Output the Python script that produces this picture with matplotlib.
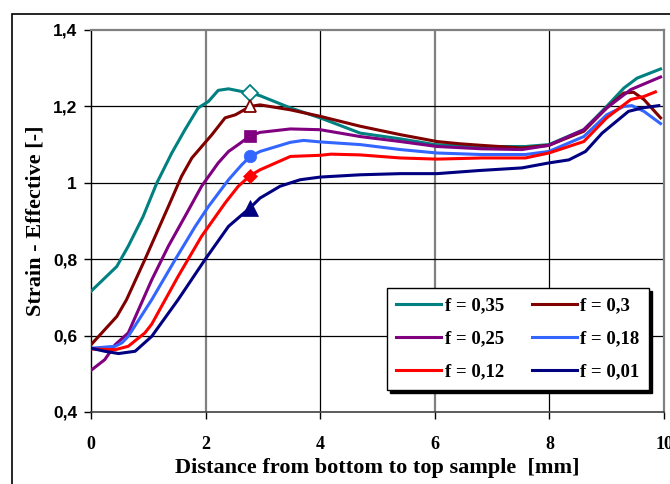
import matplotlib
matplotlib.use("Agg")
import matplotlib.pyplot as plt
from matplotlib.patches import Rectangle

# ---- data ----
x_035 = [0, 0.45, 0.65, 0.91, 1.15, 1.41, 1.64, 1.87, 2.05, 2.22, 2.40, 2.63, 2.79, 2.95, 3.48, 4.0, 4.7, 5.4, 6.0, 6.82, 7.58, 7.99, 8.6, 9.0, 9.3, 9.53, 9.94]
y_035 = [0.716, 0.781, 0.834, 0.912, 1.0, 1.078, 1.139, 1.196, 1.213, 1.242, 1.246, 1.239, 1.235, 1.228, 1.196, 1.170, 1.130, 1.115, 1.100, 1.095, 1.095, 1.100, 1.139, 1.200, 1.248, 1.274, 1.298]

x_030 = [0, 0.45, 0.62, 0.94, 1.35, 1.58, 1.76, 2.11, 2.34, 2.52, 2.78, 2.95, 3.48, 4.0, 4.7, 5.4, 6.04, 6.45, 6.82, 7.52, 7.99, 8.6, 9.0, 9.3, 9.47, 9.65, 9.94]
y_030 = [0.576, 0.650, 0.694, 0.799, 0.938, 1.017, 1.065, 1.126, 1.170, 1.178, 1.200, 1.204, 1.191, 1.174, 1.148, 1.126, 1.108, 1.102, 1.098, 1.091, 1.098, 1.135, 1.196, 1.235, 1.237, 1.218, 1.170]

x_025 = [0, 0.24, 0.42, 0.65, 1.06, 1.35, 1.64, 1.93, 2.22, 2.40, 2.57, 2.78, 2.95, 3.48, 4.0, 4.7, 5.4, 6.04, 6.82, 7.52, 7.99, 8.6, 9.0, 9.42, 9.94]
y_025 = [0.509, 0.537, 0.576, 0.607, 0.746, 0.834, 0.912, 0.991, 1.052, 1.082, 1.100, 1.123, 1.132, 1.141, 1.139, 1.121, 1.108, 1.095, 1.089, 1.087, 1.098, 1.139, 1.196, 1.244, 1.277]

x_018 = [0, 0.42, 0.54, 0.65, 1.06, 1.47, 1.82, 2.05, 2.40, 2.63, 2.78, 2.95, 3.48, 3.71, 4.0, 4.7, 5.4, 6.04, 6.82, 7.58, 7.99, 8.6, 9.0, 9.3, 9.44, 9.65, 9.94]
y_018 = [0.567, 0.572, 0.581, 0.598, 0.694, 0.799, 0.886, 0.938, 1.008, 1.047, 1.069, 1.082, 1.106, 1.111, 1.107, 1.100, 1.087, 1.078, 1.074, 1.074, 1.082, 1.121, 1.178, 1.200, 1.202, 1.187, 1.155]

x_012 = [0, 0.42, 0.65, 0.94, 1.06, 1.52, 1.93, 2.34, 2.57, 2.78, 2.95, 3.48, 4.0, 4.19, 4.7, 5.4, 6.04, 6.82, 7.58, 7.99, 8.6, 9.0, 9.42, 9.65, 9.85]
y_012 = [0.565, 0.563, 0.572, 0.607, 0.630, 0.755, 0.860, 0.947, 0.991, 1.019, 1.034, 1.069, 1.072, 1.075, 1.073, 1.065, 1.062, 1.065, 1.065, 1.078, 1.108, 1.170, 1.218, 1.226, 1.238]

x_001 = [0, 0.24, 0.48, 0.77, 1.06, 1.52, 1.99, 2.40, 2.78, 2.95, 3.30, 3.65, 4.0, 4.7, 5.4, 6.04, 6.76, 7.52, 7.99, 8.34, 8.63, 8.92, 9.38, 9.62, 9.91]
y_001 = [0.567, 0.559, 0.553, 0.559, 0.598, 0.694, 0.799, 0.886, 0.935, 0.960, 0.991, 1.008, 1.015, 1.021, 1.024, 1.024, 1.032, 1.039, 1.052, 1.060, 1.082, 1.130, 1.187, 1.196, 1.202]

marker_x = 2.78
marker_y = [1.235, 1.200, 1.123, 1.069, 1.019, 0.935]

labels = ["f = 0,35", "f = 0,3", "f = 0,25", "f = 0,18", "f = 0,12", "f = 0,01"]
colors = ["#008080", "#800000", "#800080", "#3366FF", "#FF0000", "#000080"]
markers = ["D", "^", "s", "o", "D", "^"]
filled = [False, False, True, True, True, True]
msizes = [8, 9, 9, 9, 7, 11]

xticks = [0, 2, 4, 6, 8, 10]
yticks = [0.4, 0.6, 0.8, 1.0, 1.2, 1.4]
ytick_labels = ["0,4", "0,6", "0,8", "1", "1,2", "1,4"]

xs = [x_035, x_030, x_025, x_018, x_012, x_001]
ys = [y_035, y_030, y_025, y_018, y_012, y_001]

fig = plt.figure(figsize=(6.7, 4.84), dpi=100)
fig.patch.set_facecolor("white")

# outer chart frame (extends beyond the cropped image)
fig.add_artist(Rectangle((12 / 670, -0.1), 1.2, 1 - 14 / 484 + 0.1,
                         transform=fig.transFigure, fill=False,
                         edgecolor="black", linewidth=1.2))

ax = fig.add_axes([91 / 670, 1 - 412 / 484, (664 - 91) / 670, (412 - 30) / 484])
ax.set_xlim(0, 10)
ax.set_ylim(0.4, 1.4)

# grid
for gx in [2, 4, 6, 8]:
    if gx in (2, 6):
        ax.axvline(gx, color="#808080", lw=1.6, zorder=0)
    else:
        ax.axvline(gx, color="black", lw=0.9, zorder=0)
for gy in [0.6, 0.8, 1.0, 1.2]:
    ax.axhline(gy, color="black", lw=0.9, zorder=0)

handles = []
for i in range(6):
    h, = ax.plot(xs[i], ys[i], color=colors[i], lw=2.2, label=labels[i], zorder=3,
                 solid_joinstyle="round")
    handles.append(h)
    ax.plot([marker_x], [marker_y[i]], marker=markers[i], ms=msizes[i],
            color=colors[i],
            markerfacecolor=colors[i] if filled[i] else "white",
            markeredgecolor=colors[i], markeredgewidth=1.3 if not filled[i] else 0.5,
            linestyle="none", zorder=4)

for s in ["top", "right"]:
    ax.spines[s].set_color("#808080")
    ax.spines[s].set_linewidth(1.6)
ax.spines["left"].set_color("black")
ax.spines["left"].set_linewidth(1.0)
ax.spines["bottom"].set_color("#404040")
ax.spines["bottom"].set_linewidth(1.2)

ax.set_xticks(xticks)
ax.set_xticklabels([str(t) for t in xticks],
                   fontdict={"family": "Liberation Serif", "weight": "bold", "size": 13})
ax.set_yticks(yticks)
ax.set_yticklabels(ytick_labels,
                   fontdict={"family": "Liberation Sans", "weight": "bold", "size": 12.5})
ax.tick_params(axis="both", direction="out", length=5, width=1, color="black")
ax.tick_params(axis="x", pad=12)
ax.tick_params(axis="y", pad=5)

ax.set_xlabel("Distance from bottom to top sample  [mm]",
              fontdict={"family": "Liberation Serif", "weight": "bold", "size": 16},
              labelpad=4)
ax.set_ylabel("Strain - Effective [-]",
              fontdict={"family": "Liberation Serif", "weight": "bold", "size": 16},
              labelpad=5)

order = [0, 2, 4, 1, 3, 5]
leg = ax.legend([handles[k] for k in order], [labels[k] for k in order],
                loc="lower left", bbox_to_anchor=((387 - 91) / 573, (412 - 390) / 382,
                                                  (649 - 387) / 573, (390 - 293) / 382),
                mode="expand", ncol=2, frameon=True, fancybox=False,
                shadow={"color": "black", "alpha": 1.0},
                prop={"family": "Liberation Serif", "weight": "bold", "size": 13.5},
                handlelength=2.4, handletextpad=0.2, columnspacing=1.2,
                labelspacing=0.85, borderaxespad=0, borderpad=0.5)
leg.get_frame().set_edgecolor("black")
leg.get_frame().set_linewidth(1.0)
leg.set_zorder(10)

fig.savefig("out.png", dpi=100, facecolor="white")
